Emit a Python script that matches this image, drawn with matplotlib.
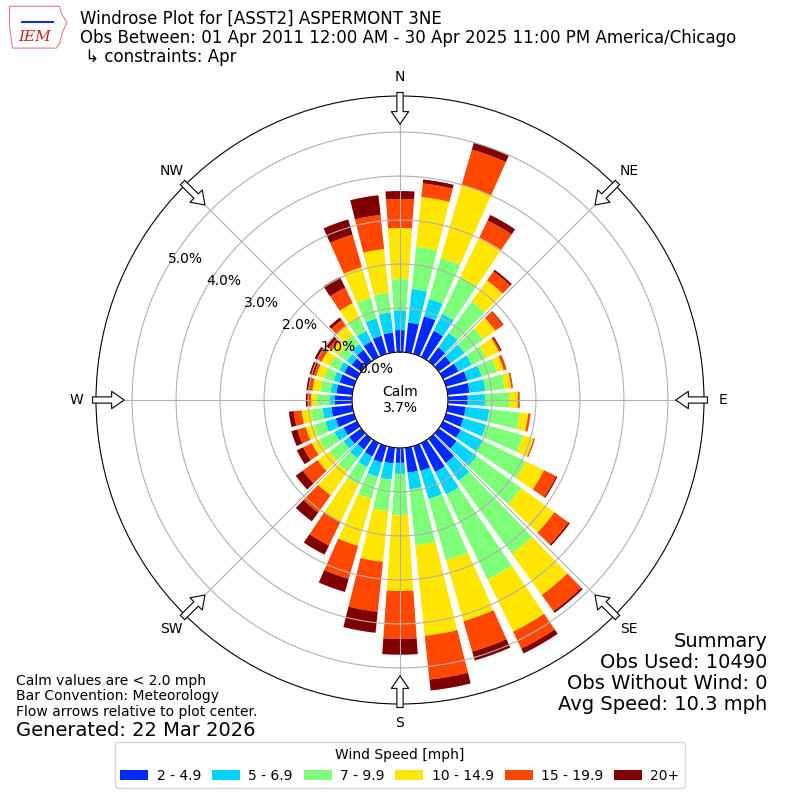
import numpy as np
import matplotlib
matplotlib.use("Agg")
import matplotlib.pyplot as plt
from matplotlib.patches import Polygon

# direction the wind blows from, degrees (10 degree bins)
directions = np.arange(0, 360, 10)

# percent of observations per direction for each speed bin
speed_labels = ["2 - 4.9", "5 - 6.9", "7 - 9.9", "10 - 14.9", "15 - 19.9", "20+"]
pct_2_5 = [0.50, 0.68, 0.89, 0.66, 0.39, 0.34, 0.39, 0.50, 0.50, 0.45, 0.41, 0.41,
           0.45, 0.50, 0.68, 0.73, 0.59, 0.57, 0.34, 0.36, 0.39, 0.34, 0.30, 0.34,
           0.34, 0.43, 0.48, 0.39, 0.36, 0.34, 0.32, 0.27, 0.32, 0.39, 0.43, 0.45]
pct_5_7 = [0.45, 0.77, 0.41, 0.43, 0.41, 0.39, 0.34, 0.34, 0.36, 0.39, 0.54, 0.54,
           0.55, 0.57, 0.50, 0.57, 0.66, 0.38, 0.25, 0.37, 0.34, 0.27, 0.25, 0.16,
           0.23, 0.25, 0.20, 0.11, 0.14, 0.14, 0.13, 0.14, 0.16, 0.27, 0.41, 0.46]
pct_7_10 = [0.71, 0.96, 0.97, 0.93, 0.88, 0.52, 0.36, 0.36, 0.44, 0.55, 0.69, 0.87,
            1.09, 1.25, 2.05, 2.15, 1.45, 1.28, 0.93, 0.72, 0.52, 0.44, 0.38, 0.39,
            0.38, 0.27, 0.27, 0.30, 0.23, 0.22, 0.23, 0.23, 0.25, 0.34, 0.48, 0.45]
pct_10_15 = [1.16, 1.14, 1.72, 1.00, 0.59, 0.34, 0.32, 0.16, 0.15, 0.20, 0.20, 0.25,
             0.46, 0.93, 1.16, 1.32, 1.44, 2.07, 1.73, 1.16, 1.11, 0.93, 0.66, 0.34,
             0.19, 0.19, 0.21, 0.13, 0.18, 0.19, 0.21, 0.18, 0.25, 0.36, 0.73, 1.00]
pct_15_20 = [0.66, 0.31, 0.84, 0.43, 0.25, 0.21, 0.04, 0.06, 0.03, 0.03, 0.05, 0.02,
             0.31, 0.39, 0.45, 0.43, 0.72, 1.00, 1.09, 1.14, 0.78, 0.61, 0.48, 0.41,
             0.22, 0.20, 0.18, 0.07, 0.07, 0.06, 0.09, 0.09, 0.18, 0.39, 0.77, 0.78]
pct_20_up = [0.18, 0.09, 0.16, 0.14, 0.05, 0.02, 0.03, 0.01, 0.01, 0.01, 0.004, 0.01,
             0.03, 0.04, 0.05, 0.12, 0.21, 0.25, 0.36, 0.48, 0.31, 0.23, 0.25, 0.20,
             0.16, 0.14, 0.11, 0.05, 0.07, 0.10, 0.09, 0.07, 0.07, 0.27, 0.36, 0.45]
series = [pct_2_5, pct_5_7, pct_7_10, pct_10_15, pct_15_20, pct_20_up]

calm_pct = 3.7
compass = ["N", "NE", "E", "SE", "S", "SW", "W", "NW"]

title = ("Windrose Plot for [ASST2] ASPERMONT 3NE\n"
         "Obs Between: 01 Apr 2011 12:00 AM - 30 Apr 2025 11:00 PM America/Chicago\n"
         " \u21b3 constraints: Apr")
notes = "Calm values are < 2.0 mph\nBar Convention: Meteorology\nFlow arrows relative to plot center."
generated = "Generated: 22 Mar 2026"
summary = "Summary\nObs Used: 10490\nObs Without Wind: 0\nAvg Speed: 10.3 mph"

colors = plt.get_cmap("jet")(np.arange(1, 7) / 6.0)

fig = plt.figure(figsize=(8, 8), dpi=100)
ax = fig.add_axes([0.12, 0.12, 0.76, 0.76], projection="polar")
ax.set_theta_zero_location("N")
ax.set_theta_direction(-1)

theta = np.deg2rad(directions)
width = np.deg2rad(8)
bottom = np.zeros(len(directions))
handles = []
for vals, color in zip(series, colors):
    vals = np.array(vals)
    b = ax.bar(theta, vals, width=width, bottom=bottom, color=color, linewidth=0)
    handles.append(b)
    bottom = bottom + vals

ax.set_ylim(0, 5.82)
ax.set_rorigin(-1.09)
ax.set_rgrids(np.arange(0, 6), labels=[f"{v:.1f}%" for v in range(6)], fontsize=10)
ax.set_rlabel_position(300)
ax.set_thetagrids(np.arange(0, 360, 45), labels=compass, fontsize=10)
ax.tick_params(axis="x", pad=3.5)

# hollow flow arrows pointing to the center
for ang in np.arange(0, 360, 45):
    t = np.deg2rad(ang)
    ax.annotate("", xy=(t, 5.18), xytext=(t, 5.9), annotation_clip=False,
                arrowprops=dict(arrowstyle="simple,head_length=0.9,head_width=1.25,tail_width=0.45",
                                fc="white", ec="black", lw=0.8, mutation_scale=10,
                                shrinkA=0, shrinkB=0))

ax.text(0.5, 0.5, f"Calm\n{calm_pct:.1f}%", transform=ax.transAxes,
        ha="center", va="center", fontsize=10)

fig.text(0.1, 0.988, title, ha="left", va="top", fontsize=12, linespacing=1.1)
fig.text(0.02, 0.158, notes, ha="left", va="top", fontsize=10, linespacing=1.17)
fig.text(0.02, 0.0755, generated, ha="left", va="bottom", fontsize=14)
fig.text(0.959, 0.107, summary, ha="right", va="bottom", fontsize=14, linespacing=1.14)

leg = fig.legend([h[0] for h in handles], speed_labels, loc="lower center", ncol=6,
                 bbox_to_anchor=(0.5, 0.006), title="Wind Speed [mph]", fontsize=10,
                 title_fontsize=10, handletextpad=0.6, columnspacing=0.8)

# small logo in the corner
lax = fig.add_axes([0.008, 0.937, 0.078, 0.058])
lax.set_xlim(0, 1)
lax.set_ylim(0, 1)
lax.axis("off")
lax.add_patch(Polygon([[0.05, 0.95], [0.85, 0.95], [0.88, 0.8], [0.97, 0.6], [0.9, 0.4],
                       [0.85, 0.15], [0.8, 0.05], [0.1, 0.05], [0.05, 0.5]],
                      closed=True, fill=False, ec="#e08080", lw=0.8))
lax.plot([0.25, 0.75], [0.62, 0.62], color="#1a2fd0", lw=1.5)
lax.text(0.45, 0.28, "IEM", color="#d02020", fontsize=11, family="serif",
         style="italic", ha="center", va="center")

fig.savefig("out.png", dpi=100)
